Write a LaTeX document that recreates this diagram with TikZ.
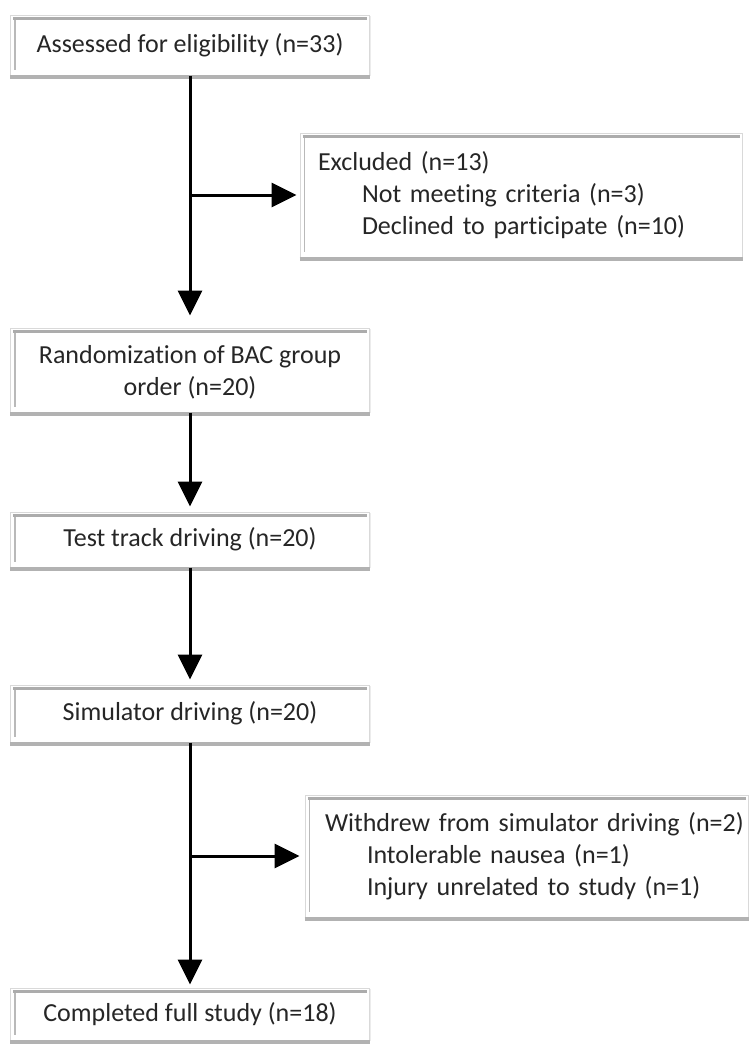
\documentclass[tikz,border=0pt]{standalone}
\usepackage{fontspec}
\setmainfont[Ligatures=NoCommon]{Carlito}
\usetikzlibrary{arrows.meta,shadows}

\tikzset{
  box/.style={draw=gray!30, line width=1pt, fill=white, text=black!85,
    font=\fontsize{26}{32}\selectfont, inner sep=0pt, minimum width=359pt,
    drop shadow={shadow xshift=1pt, shadow yshift=-1pt, opacity=.15, fill=gray},
    append after command={
      ([xshift=3pt,yshift=-4pt]\tikzlastnode.north west) edge[draw=gray!65, line width=3.5pt]
      ([xshift=-3pt,yshift=-4pt]\tikzlastnode.north east)
      ([xshift=5pt,yshift=-5pt]\tikzlastnode.north west) edge[draw=gray!55, line width=1.2pt]
      ([xshift=5pt,yshift=6pt]\tikzlastnode.south west)
      ([yshift=-1.5pt]\tikzlastnode.south west) edge[draw=gray!60, line width=3.5pt]
      ([yshift=-1.5pt]\tikzlastnode.south east)
    }},
  arr/.style={line width=3pt, -{Triangle[width=24pt,length=25pt]}}
}

\begin{document}
\begin{tikzpicture}[x=1pt,y=1pt]
\useasboundingbox (0,0) rectangle (750,-1044);

\node[box, minimum height=60pt] (assess) at (190,-45) {Assessed for eligibility (n=33)};
\node[box, minimum width=442pt, minimum height=124pt, text width=406pt, align=left] (excl) at (521,-195)
  {\mbox{Excluded (n=13)}\\\mbox{\hspace*{44pt}Not meeting criteria (n=3)}\\\mbox{\hspace*{44pt}Declined to participate (n=10)}};
\node[box, minimum height=84pt, align=center, text depth=-4pt] (rand) at (190,-370) {Randomization of BAC group\\order (n=20)};
\node[box, minimum height=55pt] (track) at (190,-539.5) {Test track driving (n=20)};
\node[box, minimum height=57pt] (sim) at (190,-713.5) {Simulator driving (n=20)};
\node[box, minimum width=443pt, minimum height=122pt, text width=403pt, align=left] (withd) at (526.5,-856)
  {\mbox{Withdrew from simulator driving (n=2)}\\\mbox{\hspace*{42pt}Intolerable nausea (n=1)}\\\mbox{\hspace*{42pt}Injury unrelated to study (n=1)}};
\node[box, minimum height=52pt] (done) at (190,-1014) {Completed full study (n=18)};

\draw[arr, shorten >=12pt] (assess) -- (rand);
\draw[arr, shorten >=3pt] (assess.south |- excl.west) -- (excl.west);
\draw[arr, shorten >=5pt] (rand) -- (track);
\draw[arr, shorten >=5pt] (track) -- (sim);
\draw[arr, shorten >=3pt] (sim) -- (done);
\draw[arr, shorten >=5pt] (sim.south |- withd.west) -- (withd.west);
\end{tikzpicture}
\end{document}
